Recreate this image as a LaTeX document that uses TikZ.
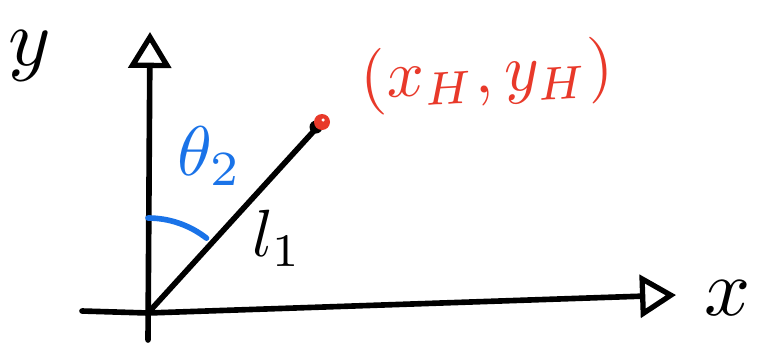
\documentclass[tikz,border=0pt]{standalone}
\usepackage{amsmath,amssymb}
\usepackage{xcolor}
\usepackage{tikz}
\usetikzlibrary{arrows.meta,calc}

\definecolor{penred}{HTML}{E8392A}
\definecolor{penblue}{HTML}{1A73E8}

\tikzset{
  pen/.style={line width=3.2pt, line cap=round, line join=round},
  axisarrow/.style={pen, -{Triangle[open, length=0.72cm, width=0.85cm, line width=3pt]}},
  biglabel/.style={inner sep=0pt}
}

\begin{document}
\begin{tikzpicture}[x=0.02cm, y=0.02cm]
  \useasboundingbox (0, 0) rectangle (757, 346);

  % axes
  \coordinate (O) at (148, 33);
  \coordinate (ybot) at (148, 6);
  \coordinate (ytop) at (150, 314);
  \coordinate (xleft) at (82, 35);
  \coordinate (xright) at (676, 51);
  \draw[axisarrow] (ybot) -- (ytop);
  \draw[axisarrow] (xleft) -- (O) -- (xright);

  % link
  \coordinate (H) at (322, 224);
  \draw[pen] (O) -- (H);
  \fill[black] (316, 219) circle (0.13cm);
  \fill[penred] (H) circle (0.16cm);
  \fill[white] (323, 226) circle (0.035cm);

  % angle
  \draw[pen, penblue] ($(O)+(90:95)$) arc[start angle=90, end angle=52, radius=1.9cm];

  % labels
  \node[biglabel, scale=4.6] (ylab) at (30, 290) {$y$};
  \node[biglabel, scale=4.6] (xlab) at (728, 48) {$x$};
  \node[biglabel, scale=3.8] (llab) at (277, 108) {$l_1$};
  \node[biglabel, scale=4, penblue] (thlab) at (210, 190) {$\theta_2$};
  \node[biglabel, scale=3.8, penred, rotate=3] (Hlab) at (487, 270) {$(x_H, y_H)$};
\end{tikzpicture}
\end{document}
